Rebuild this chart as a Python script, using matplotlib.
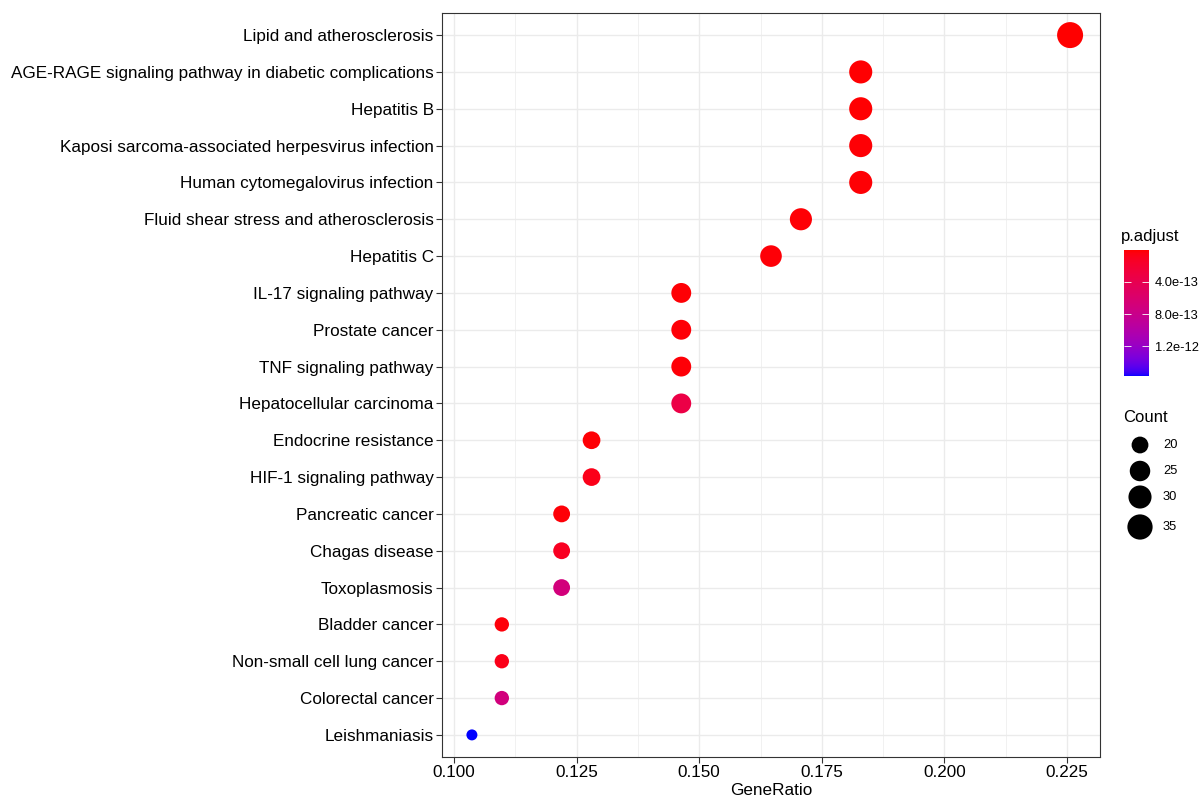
import numpy as np
import matplotlib
matplotlib.use("Agg")
import matplotlib.pyplot as plt
from matplotlib.colors import ListedColormap, Normalize
from matplotlib.cm import ScalarMappable

plt.rcParams["font.family"] = ["Liberation Sans", "DejaVu Sans"]

# enrichment terms, top to bottom
terms = [
    "Lipid and atherosclerosis",
    "AGE-RAGE signaling pathway in diabetic complications",
    "Hepatitis B",
    "Kaposi sarcoma-associated herpesvirus infection",
    "Human cytomegalovirus infection",
    "Fluid shear stress and atherosclerosis",
    "Hepatitis C",
    "IL-17 signaling pathway",
    "Prostate cancer",
    "TNF signaling pathway",
    "Hepatocellular carcinoma",
    "Endocrine resistance",
    "HIF-1 signaling pathway",
    "Pancreatic cancer",
    "Chagas disease",
    "Toxoplasmosis",
    "Bladder cancer",
    "Non-small cell lung cancer",
    "Colorectal cancer",
    "Leishmaniasis",
]
counts = [37, 30, 30, 30, 30, 28, 27, 24, 24, 24, 24, 21, 21, 20, 20, 20, 18, 18, 18, 17]
gene_ratio = [c / 164 for c in counts]
p_adjust = [5.0e-15, 1.5e-14, 1.6e-14, 1.8e-14, 1.9e-14, 2.0e-14, 2.5e-14, 2.0e-14,
            2.5e-14, 2.5e-14, 3.3e-13, 2.0e-14, 8.0e-14, 2.5e-14, 1.2e-13, 6.9e-13,
            3.0e-14, 8.0e-14, 7.0e-13, 1.57e-12]

x_ticks = [0.100, 0.125, 0.150, 0.175, 0.200, 0.225]
cbar_ticks = [4.0e-13, 8.0e-13, 1.2e-12]
count_breaks = [20, 25, 30, 35]


def srgb_to_lab(rgb):
    rgb = np.asarray(rgb, dtype=float)
    lin = np.where(rgb <= 0.04045, rgb / 12.92, ((rgb + 0.055) / 1.055) ** 2.4)
    m = np.array([[0.4124, 0.3576, 0.1805],
                  [0.2126, 0.7152, 0.0722],
                  [0.0193, 0.1192, 0.9505]])
    xyz = m @ lin / np.array([0.95047, 1.0, 1.08883])
    f = np.where(xyz > 0.008856, np.cbrt(xyz), 7.787 * xyz + 16 / 116)
    return np.array([116 * f[1] - 16, 500 * (f[0] - f[1]), 200 * (f[1] - f[2])])


def lab_to_srgb(lab):
    L, a, b = lab
    fy = (L + 16) / 116
    fx = fy + a / 500
    fz = fy - b / 200
    f = np.array([fx, fy, fz])
    xyz = np.where(f ** 3 > 0.008856, f ** 3, (f - 16 / 116) / 7.787)
    xyz = xyz * np.array([0.95047, 1.0, 1.08883])
    minv = np.array([[3.2406, -1.5372, -0.4986],
                     [-0.9689, 1.8758, 0.0415],
                     [0.0557, -0.2040, 1.0570]])
    lin = minv @ xyz
    lin = np.clip(lin, 0, 1)
    rgb = np.where(lin <= 0.0031308, 12.92 * lin, 1.055 * lin ** (1 / 2.4) - 0.055)
    return np.clip(rgb, 0, 1)


lab_a = srgb_to_lab([1, 0, 0])
lab_b = srgb_to_lab([0, 0, 1])
cmap = ListedColormap([lab_to_srgb(lab_a + (lab_b - lab_a) * t) for t in np.linspace(0, 1, 256)])
norm = Normalize(min(p_adjust), max(p_adjust))


def size_px(c):
    cmin, cmax = min(counts), max(counts)
    return 11 + 15 * np.sqrt((np.asarray(c) - cmin) / (cmax - cmin))


def size_s(c):
    return (size_px(c) * 0.72) ** 2


fig = plt.figure(figsize=(12.02, 8.01), dpi=100)
W, H = 1202, 801
ax = fig.add_axes([442 / W, 1 - 757 / H, (1100 - 442) / W, (757 - 13) / H])

y = np.arange(len(terms))
ax.scatter(gene_ratio, y, s=size_s(counts), c=p_adjust, cmap=cmap, norm=norm,
           linewidths=0, zorder=3)

xr = max(gene_ratio) - min(gene_ratio)
ax.set_xlim(min(gene_ratio) - 0.05 * xr, max(gene_ratio) + 0.05 * xr)
ax.set_ylim(len(terms) - 0.4, -0.6)
ax.set_yticks(y)
ax.set_yticklabels(terms, fontsize=12.3, color="black")
ax.set_xticks(x_ticks)
ax.set_xticklabels([f"{v:.3f}" for v in x_ticks], fontsize=12.3, color="black")
ax.set_xticks([(a + b) / 2 for a, b in zip(x_ticks[:-1], x_ticks[1:])], minor=True)
ax.grid(True, which="major", color="#EBEBEB", lw=1.0, zorder=0)
ax.grid(True, which="minor", axis="x", color="#EBEBEB", lw=0.5, zorder=0)
ax.set_axisbelow(True)
ax.tick_params(axis="both", which="major", length=4, width=0.8, color="#333333", pad=2)
ax.tick_params(axis="x", which="minor", length=0)
for sp in ax.spines.values():
    sp.set_color("#333333")
    sp.set_linewidth(0.8)
ax.set_xlabel("GeneRatio", fontsize=12.3, labelpad=2)

# colour legend
fig.text(1121 / W, 1 - 236 / H, "p.adjust", fontsize=12, va="center", ha="left")
cax = fig.add_axes([1124 / W, 1 - 376 / H, 25 / W, 126 / H])
cb = fig.colorbar(ScalarMappable(norm=norm, cmap=cmap), cax=cax)
cb.outline.set_visible(False)
cax.invert_yaxis()
cb.set_ticks(cbar_ticks)
cb.set_ticklabels([f"{v:.1e}" for v in cbar_ticks])
cax.tick_params(axis="y", direction="in", length=5, width=0.6, color="white",
                left=True, right=True, labelsize=9.3, pad=4)

# size legend
fig.text(1123 / W, 1 - 417 / H, "Count", fontsize=12, va="center", ha="left")
lax = fig.add_axes([1124 / W, 1 - 540 / H, 76 / W, 108 / H])
lax.set_xlim(0, 76)
lax.set_ylim(108, 0)
lax.axis("off")
leg_y = [13, 39, 65, 95]
lax.scatter([16] * len(count_breaks), leg_y, s=size_s(count_breaks), c="black", linewidths=0)
for v, yy in zip(count_breaks, leg_y):
    lax.text(39, yy, str(v), fontsize=9.3, va="center", ha="left")

fig.savefig("out.png", dpi=100)
